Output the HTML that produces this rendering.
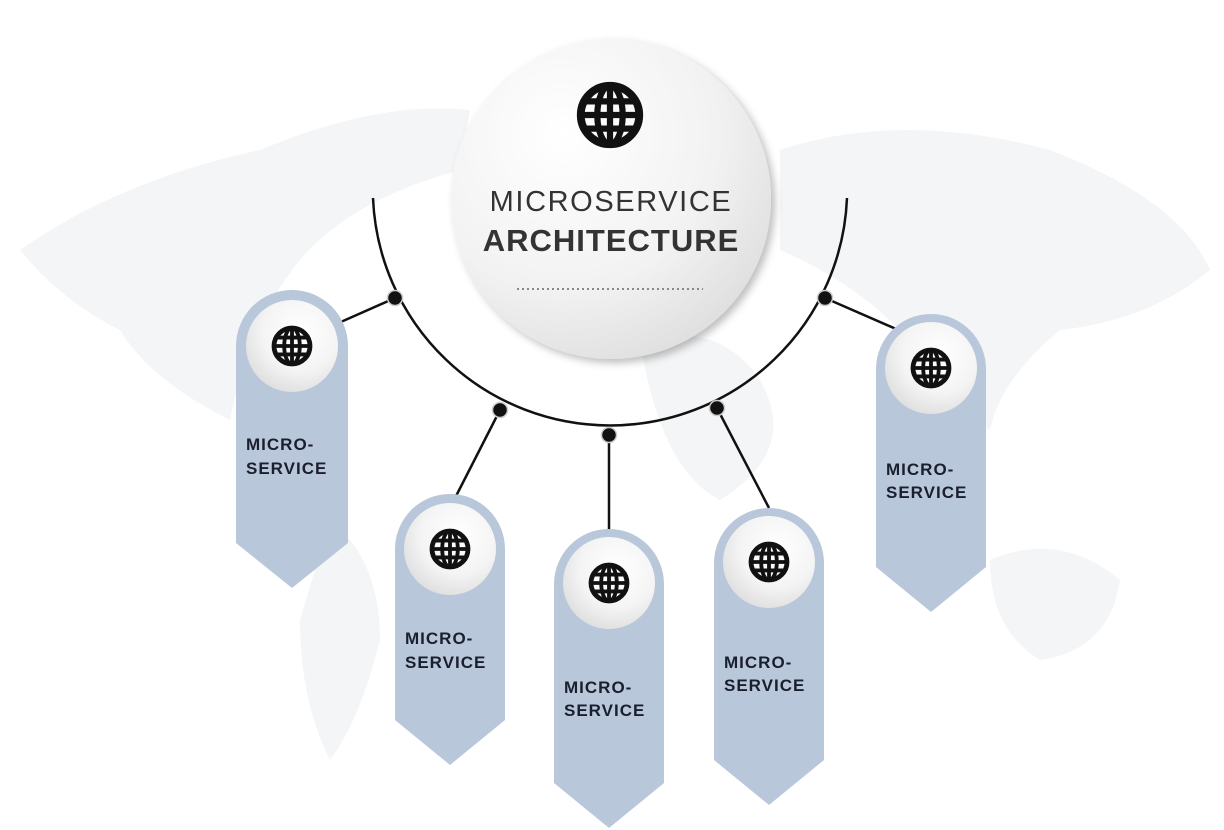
<!DOCTYPE html>
<html><head><meta charset="utf-8"><style>
html,body{margin:0;padding:0;background:#fff;}
svg{display:block}
</style></head><body>
<svg width="1224" height="830" viewBox="0 0 1224 830" xmlns="http://www.w3.org/2000/svg" font-family="'Liberation Sans', sans-serif">
<defs>
<radialGradient id="bc" cx="0.35" cy="0.3" r="0.8"><stop offset="0" stop-color="#ffffff"/><stop offset="0.6" stop-color="#f2f2f2"/><stop offset="1" stop-color="#dcdcdc"/></radialGradient>
<radialGradient id="sc" cx="0.6" cy="0.35" r="0.7"><stop offset="0" stop-color="#ffffff"/><stop offset="0.6" stop-color="#f4f4f4"/><stop offset="1" stop-color="#dedede"/></radialGradient>
<filter id="sh" x="-20%" y="-20%" width="140%" height="140%"><feDropShadow dx="4" dy="4" stdDeviation="4" flood-color="#000" flood-opacity="0.25"/></filter>
<g id="globe">
<circle r="15" fill="none" stroke="#111" stroke-width="4"/>
<ellipse rx="6.5" ry="15" fill="none" stroke="#111" stroke-width="3.2"/>
<line x1="0" y1="-15" x2="0" y2="15" stroke="#111" stroke-width="3.2"/>
<line x1="-15" y1="0" x2="15" y2="0" stroke="#111" stroke-width="3.2"/>
<line x1="-13" y1="-7" x2="13" y2="-7" stroke="#111" stroke-width="3.2"/>
<line x1="-13" y1="7" x2="13" y2="7" stroke="#111" stroke-width="3.2"/>
</g>
</defs>
<!-- faint world map -->
<g fill="#f4f5f6">
<path d="M20 250 Q120 180 260 150 Q380 100 470 110 L460 170 Q350 200 300 260 Q250 320 230 420 Q150 380 120 330 Q60 300 20 250Z"/>
<path d="M780 150 Q900 110 1050 150 Q1180 200 1210 270 Q1150 320 1060 330 Q1000 380 990 430 Q940 400 900 330 Q850 280 780 250Z"/>
<path d="M990 560 Q1060 530 1120 580 Q1110 650 1040 660 Q990 630 990 560Z"/>
<path d="M330 520 Q380 560 380 640 Q360 720 330 760 Q300 700 300 620Z"/>
<path d="M640 340 Q720 320 760 380 Q800 450 720 500 Q660 470 640 340Z"/>
</g>
<!-- arc -->
<path d="M373 198 A237.2 237.2 0 0 0 847 198" fill="none" stroke="#111" stroke-width="2.5"/>
<!-- connectors -->
<g stroke="#111" stroke-width="2.5">
<line x1="395" y1="298" x2="334" y2="325"/>
<line x1="500" y1="410" x2="453" y2="502"/>
<line x1="609" y1="435" x2="609" y2="536"/>
<line x1="717" y1="408" x2="769" y2="508"/>
<line x1="825" y1="298" x2="903" y2="332"/>
</g>
<!-- big circle -->
<circle cx="611" cy="199" r="160" fill="url(#bc)" filter="url(#sh)"/>
<use href="#globe" transform="translate(610,115) scale(1.95)"/>
<text x="611" y="211" text-anchor="middle" font-size="29" fill="#333" letter-spacing="1.6">MICROSERVICE</text>
<text x="611" y="251" text-anchor="middle" font-size="31" font-weight="bold" fill="#333" letter-spacing="1">ARCHITECTURE</text>
<line x1="517" y1="289" x2="703" y2="289" stroke="#888" stroke-width="2" stroke-dasharray="2 3"/>
<!-- cards -->
<g font-size="17" font-weight="bold" fill="#1a1f2e" letter-spacing="1">
<path d="M236 346 A56 56 0 0 1 348 346 V543 L292 588 L236 543Z" fill="#b9c7db"/>
<circle cx="292" cy="346" r="46" fill="url(#sc)"/>
<use href="#globe" transform="translate(292,346) scale(1.2)"/>
<text x="246" y="450">MICRO-</text>
<text x="246" y="474">SERVICE</text>

<path d="M395 549 A55 55 0 0 1 505 549 V720 L450 765 L395 720Z" fill="#b9c7db"/>
<circle cx="450" cy="549" r="46" fill="url(#sc)"/>
<use href="#globe" transform="translate(450,549) scale(1.2)"/>
<text x="405" y="644">MICRO-</text>
<text x="405" y="668">SERVICE</text>

<path d="M554 584 A55 55 0 0 1 664 584 V783 L609 828 L554 783Z" fill="#b9c7db"/>
<circle cx="609" cy="583" r="46" fill="url(#sc)"/>
<use href="#globe" transform="translate(609,583) scale(1.2)"/>
<text x="564" y="693">MICRO-</text>
<text x="564" y="716">SERVICE</text>

<path d="M714 563 A55 55 0 0 1 824 563 V760 L769 805 L714 760Z" fill="#b9c7db"/>
<circle cx="769" cy="562" r="46" fill="url(#sc)"/>
<use href="#globe" transform="translate(769,562) scale(1.2)"/>
<text x="724" y="668">MICRO-</text>
<text x="724" y="691">SERVICE</text>

<path d="M876 369 A55 55 0 0 1 986 369 V567 L931 612 L876 567Z" fill="#b9c7db"/>
<circle cx="931" cy="368" r="46" fill="url(#sc)"/>
<use href="#globe" transform="translate(931,368) scale(1.2)"/>
<text x="886" y="475">MICRO-</text>
<text x="886" y="498">SERVICE</text>
</g>
<!-- dots -->
<g fill="#111" stroke="#ccc" stroke-width="1.5">
<circle cx="395" cy="298" r="7.5"/>
<circle cx="500" cy="410" r="7.5"/>
<circle cx="609" cy="435" r="7.5"/>
<circle cx="717" cy="408" r="7.5"/>
<circle cx="825" cy="298" r="7.5"/>
</g>
</svg>
</body></html>
